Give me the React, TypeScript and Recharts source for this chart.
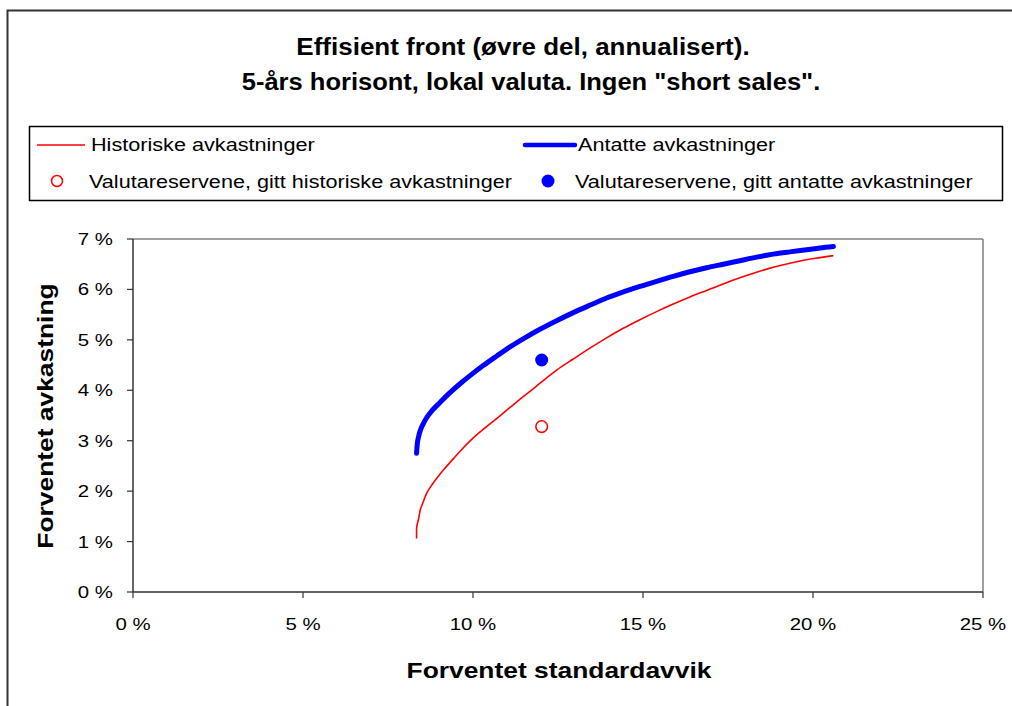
import React from 'react';
import {
  ComposedChart, Line, Scatter, XAxis, YAxis, ReferenceLine, Legend,
} from 'recharts';

// ---- data (percent) ----
const antatteStd = [8.34, 8.36, 8.4, 8.46, 8.54, 8.64, 8.8, 9.03, 9.3, 9.62, 9.95, 10.3, 10.7, 11.09, 11.5, 11.97, 12.46, 12.95, 13.45, 13.93, 14.42, 14.91, 15.4, 15.89, 16.38, 16.87, 17.36, 17.85, 18.34, 18.83, 19.32, 19.81, 20.2, 20.6];
const antatteRet = [2.75, 2.93, 3.08, 3.22, 3.34, 3.46, 3.6, 3.76, 3.94, 4.13, 4.31, 4.49, 4.68, 4.86, 5.03, 5.21, 5.38, 5.54, 5.69, 5.83, 5.95, 6.06, 6.16, 6.26, 6.35, 6.43, 6.5, 6.57, 6.64, 6.7, 6.745, 6.785, 6.82, 6.85];

const historiskeStd = [8.34, 8.34, 8.4, 8.44, 8.52, 8.64, 8.83, 9.13, 9.42, 9.62, 10.0, 10.4, 10.75, 11.09, 11.45, 11.77, 11.97, 12.46, 12.95, 13.45, 13.93, 14.42, 14.91, 15.4, 15.89, 16.38, 16.87, 17.36, 17.85, 18.34, 18.83, 19.32, 19.81, 20.2, 20.6];
const historiskeRet = [1.06, 1.26, 1.45, 1.6, 1.76, 1.96, 2.16, 2.42, 2.64, 2.79, 3.05, 3.28, 3.47, 3.66, 3.86, 4.03, 4.14, 4.4, 4.62, 4.84, 5.04, 5.23, 5.4, 5.56, 5.71, 5.85, 5.98, 6.11, 6.23, 6.34, 6.44, 6.52, 6.59, 6.63, 6.67];

const reserverHistStd = [12.02];
const reserverHistRet = [3.28];
const reserverAntStd = [12.02];
const reserverAntRet = [4.6];

const xTicks = [0, 5, 10, 15, 20, 25];
const yTicks = [0, 1, 2, 3, 4, 5, 6, 7];

const titleLines = ['Effisient front (øvre del, annualisert).', '5-års horisont, lokal valuta. Ingen "short sales".'];
const xLabel = 'Forventet standardavvik';
const yLabel = 'Forventet avkastning';
const seriesNames = {
  hist: 'Historiske avkastninger',
  ant: 'Antatte avkastninger',
  resHist: 'Valutareservene, gitt historiske avkastninger',
  resAnt: 'Valutareservene, gitt antatte avkastninger',
};

const zip = (xs: number[], ys: number[]) => xs.map((x, i) => ({ x, y: ys[i] }));
const antData = zip(antatteStd, antatteRet);
const histData = zip(historiskeStd, historiskeRet);
const resHistData = zip(reserverHistStd, reserverHistRet);
const resAntData = zip(reserverAntStd, reserverAntRet);

const FONT = '"Liberation Sans", Arial, sans-serif';
const SX = 1.2;

const ST = ({ x, y, size, bold, anchor = 'start', rotate, sx = SX, children }: any) => (
  <text
    transform={`translate(${x},${y})${rotate ? ` rotate(${rotate})` : ''} scale(${sx},1)`}
    fontSize={size}
    fontFamily={FONT}
    fontWeight={bold ? 'bold' : 'normal'}
    textAnchor={anchor}
    fill="#000"
  >
    {children}
  </text>
);

const YTick = (props: any) => {
  const { x, y, payload } = props;
  return <ST x={x} y={y + 6} size={17} anchor="end">{`${payload.value} %`}</ST>;
};
const XTick = (props: any) => {
  const { x, y, payload } = props;
  return <ST x={x} y={y + 32} size={17} anchor="middle">{`${payload.value} %`}</ST>;
};

const LegendBox = () => (
  <svg width={1012} height={210} style={{ display: 'block' }}>
    <rect x={29.5} y={126.5} width={973} height={74} fill="#fff" stroke="#000" strokeWidth={1.5} />
    <line x1={37} x2={85} y1={145} y2={145} stroke="#FF0000" strokeWidth={1.5} />
    <ST x={91} y={151} size={18.5} sx={1.17}>{seriesNames.hist}</ST>
    <line x1={525} x2={575} y1={145} y2={145} stroke="#0000FF" strokeWidth={4.5} strokeLinecap="round" />
    <ST x={578} y={151} size={18.5} sx={1.17}>{seriesNames.ant}</ST>
    <circle cx={57} cy={181} r={5.5} fill="#fff" stroke="#FF0000" strokeWidth={1.5} />
    <ST x={89} y={188} size={18.5} sx={1.17}>{seriesNames.resHist}</ST>
    <circle cx={548} cy={181} r={6.5} fill="#0000FF" />
    <ST x={575} y={188} size={18.5} sx={1.17}>{seriesNames.resAnt}</ST>
  </svg>
);

const OpenCircle = (props: any) => (
  <circle cx={props.cx} cy={props.cy} r={5.8} fill="#fff" stroke="#FF0000" strokeWidth={1.6} />
);
const FilledDot = (props: any) => (
  <circle cx={props.cx} cy={props.cy} r={6.5} fill="#0000FF" />
);

export default function App() {
  return (
    <div style={{ position: 'absolute', left: 0, top: 0, width: 1012, height: 706, overflow: 'hidden', background: '#fff' }}>
      <ComposedChart
        width={1012}
        height={706}
        margin={{ top: 239, right: 29, bottom: 74, left: 53 }}
      >
        <XAxis
          type="number"
          dataKey="x"
          domain={[0, 25]}
          ticks={xTicks}
          allowDataOverflow
          height={40}
          tickSize={6}
          tickMargin={0}
          stroke="#333"
          strokeWidth={1.5}
          tickLine={{ stroke: '#333', strokeWidth: 1.2 }}
          tick={<XTick />}
        />
        <YAxis
          type="number"
          dataKey="y"
          domain={[0, 7]}
          ticks={yTicks}
          allowDataOverflow
          width={80}
          tickSize={6}
          tickMargin={14}
          stroke="#333"
          strokeWidth={1.5}
          tickLine={{ stroke: '#333', strokeWidth: 1.2 }}
          tick={<YTick />}
        />
        <ReferenceLine y={7} stroke="#808080" strokeWidth={1.5} />
        <ReferenceLine x={25} stroke="#808080" strokeWidth={1.5} />
        <Line
          data={histData}
          dataKey="y"
          name={seriesNames.hist}
          type="monotone"
          stroke="#FF0000"
          strokeWidth={1.6}
          dot={false}
          activeDot={false}
          isAnimationActive={false}
        />
        <Line
          data={antData}
          dataKey="y"
          name={seriesNames.ant}
          type="monotone"
          stroke="#0000FF"
          strokeWidth={5}
          strokeLinecap="round"
          strokeLinejoin="round"
          dot={false}
          activeDot={false}
          isAnimationActive={false}
        />
        <Scatter
          data={resHistData}
          dataKey="y"
          name={seriesNames.resHist}
          shape={<OpenCircle />}
          isAnimationActive={false}
        />
        <Scatter
          data={resAntData}
          dataKey="y"
          name={seriesNames.resAnt}
          shape={<FilledDot />}
          isAnimationActive={false}
        />
        <Legend
          layout="vertical"
          align="center"
          verticalAlign="middle"
          wrapperStyle={{ position: 'absolute', left: 0, top: 0, width: 1012, height: 210 }}
          content={<LegendBox />}
        />
      </ComposedChart>
      <svg width={1012} height={706} style={{ position: 'absolute', left: 0, top: 0, pointerEvents: 'none' }}>
        <rect x={7.5} y={10.5} width={1100} height={800} fill="none" stroke="#333" strokeWidth={2} />
        <ST x={523} y={55} size={23} bold anchor="middle" sx={1.13}>{titleLines[0]}</ST>
        <ST x={531} y={90} size={23} bold anchor="middle" sx={1.11}>{titleLines[1]}</ST>
        <ST x={559} y={678} size={22} bold anchor="middle">{xLabel}</ST>
        <ST x={53} y={416} size={22} bold anchor="middle" rotate={-90}>{yLabel}</ST>
      </svg>
    </div>
  );
}
